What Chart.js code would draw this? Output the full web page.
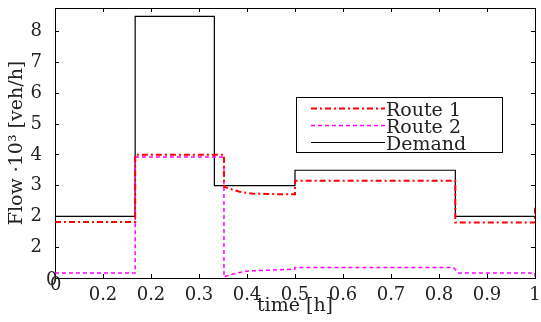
<!DOCTYPE html>
<html>
<head>
<meta charset="utf-8">
<script src="https://cdn.jsdelivr.net/npm/chart.js@4/dist/chart.umd.min.js"></script>
<style>
  body { margin: 0; background: #fff; }
  #flowChart { display: block; }
</style>
</head>
<body>
<canvas id="flowChart" width="541" height="322"></canvas>
<script>
// Series data (time in hours, flow in 10^3 veh/h)
const route1Time = [0, 0.167, 0.167, 0.352, 0.352, 0.362, 0.372, 0.383, 0.393, 0.413, 0.441, 0.47, 0.5, 0.5, 0.834, 0.834, 1, 1];
const route1Flow = [1.82, 1.82, 4.0, 4.0, 2.97, 2.91, 2.86, 2.81, 2.78, 2.74, 2.73, 2.72, 2.72, 3.16, 3.16, 1.8, 1.8, 2.3];

const route2Time = [0, 0.167, 0.167, 0.352, 0.352, 0.354, 0.367, 0.379, 0.391, 0.403, 0.441, 0.47, 0.5, 0.5, 0.83, 0.84, 1, 1];
const route2Flow = [0.16, 0.16, 3.93, 3.93, 0.03, 0.05, 0.11, 0.16, 0.2, 0.23, 0.25, 0.27, 0.29, 0.34, 0.34, 0.16, 0.16, 0.0];

const demandTime = [0, 0.167, 0.167, 0.332, 0.332, 0.5, 0.5, 0.834, 0.834, 1];
const demandFlow = [2, 2, 8.5, 8.5, 3, 3, 3.5, 3.5, 2, 2];

// Ticks and their (odd) labels, as printed in the figure
const xTickValues = [0, 0.1, 0.2, 0.3, 0.4, 0.5, 0.6, 0.7, 0.8, 0.9, 1];
const xTickLabels = ['0', '0.2', '0.2', '0.3', '0.4', '0.5', '0.6', '0.7', '0.8', '0.9', '1'];
const yTickValues = [0, 1, 2, 3, 4, 5, 6, 7, 8];
const yTickLabels = ['0', '2', '2', '3', '4', '5', '6', '7', '8'];

const seriesLabels = ['Route 1', 'Route 2', 'Demand'];

const FONT = 'DejaVu Serif';
const TEXT = '#222';

function toPoints(xs, ys) {
    return xs.map((x, i) => ({ x: x, y: ys[i] }));
}

function setTicks(values) {
    return scale => { scale.ticks = values.map(v => ({ value: v })); };
}

// fixed box sizes so the plot area lands where the original has it
function fixSize(size) {
    return s => {
        if (s.isHorizontal()) s.height = size; else s.width = size;
        s.paddingLeft = s.paddingRight = s.paddingTop = s.paddingBottom = 0;
    };
}

// Legend box inside the plot, MATLAB style
const boxLegend = {
    id: 'boxLegend',
    afterDraw(chart) {
        const ctx = chart.ctx;
        const x0 = 296, y0 = 97, w = 206, h = 55;
        ctx.save();
        ctx.fillStyle = '#fff';
        ctx.fillRect(x0, y0, w, h);
        ctx.strokeStyle = '#000';
        ctx.lineWidth = 1;
        ctx.strokeRect(x0 + 0.5, y0 + 0.5, w, h);
        chart.data.datasets.forEach((ds, i) => {
            const y = 108.5 + i * 17;
            ctx.beginPath();
            ctx.strokeStyle = ds.borderColor;
            ctx.lineWidth = ds.borderWidth;
            ctx.setLineDash(ds.borderDash || []);
            ctx.moveTo(311, y);
            ctx.lineTo(385, y);
            ctx.stroke();
            ctx.setLineDash([]);
            ctx.fillStyle = TEXT;
            ctx.font = '19px "' + FONT + '"';
            ctx.textAlign = 'left';
            ctx.textBaseline = 'alphabetic';
            ctx.fillText(ds.label, 386, y + 7);
        });
        // the two "0" labels sit off their usual spots in the original
        ctx.font = '18px "' + FONT + '"';
        ctx.fillStyle = TEXT;
        ctx.textBaseline = 'middle';
        ctx.textAlign = 'left';
        ctx.fillText(yTickLabels[0], 46, 280);
        ctx.fillText(xTickLabels[0], 50, 285);
        ctx.restore();
    }
};

const chart = new Chart(document.getElementById('flowChart'), {
    type: 'line',
    data: {
        datasets: [
            {
                label: seriesLabels[0],
                data: toPoints(route1Time, route1Flow),
                borderColor: '#ff0000',
                borderWidth: 2,
                borderDash: [6, 3, 2, 3]
            },
            {
                label: seriesLabels[1],
                data: toPoints(route2Time, route2Flow),
                borderColor: '#ff00ff',
                borderWidth: 1.5,
                borderDash: [4, 3]
            },
            {
                label: seriesLabels[2],
                data: toPoints(demandTime, demandFlow),
                borderColor: '#000000',
                borderWidth: 1.2
            }
        ]
    },
    options: {
        responsive: false,
        animation: false,
        layout: { padding: 0 },
        elements: { point: { radius: 0 }, line: { tension: 0 } },
        plugins: {
            legend: { display: false },
            tooltip: { enabled: false }
        },
        scales: {
            x: {
                type: 'linear',
                position: 'bottom',
                min: 0,
                max: 1,
                afterBuildTicks: setTicks(xTickValues),
                afterFit: fixSize(44),
                border: { color: '#000', width: 1 },
                grid: { drawOnChartArea: false, color: '#000', tickLength: -4 },
                ticks: {
                    padding: 11,
                    maxRotation: 0,
                    autoSkip: false,
                    color: TEXT,
                    font: { family: FONT, size: 18 },
                    callback: (v, i) => i === 0 ? '' : xTickLabels[i]
                },
                title: {
                    display: true,
                    text: 'time [h]',
                    color: TEXT,
                    font: { family: FONT, size: 19 },
                    padding: { top: 0, bottom: 5 }
                }
            },
            x2: {
                type: 'linear',
                position: 'top',
                min: 0,
                max: 1,
                afterBuildTicks: setTicks(xTickValues),
                afterFit: fixSize(8),
                border: { color: '#000', width: 1 },
                grid: { drawOnChartArea: false, color: '#000', tickLength: -4 },
                ticks: { display: false }
            },
            y: {
                type: 'linear',
                position: 'left',
                min: 0,
                max: 8.77,
                afterBuildTicks: setTicks(yTickValues),
                afterFit: fixSize(55),
                border: { color: '#000', width: 1 },
                grid: { drawOnChartArea: false, color: '#000', tickLength: -4 },
                ticks: {
                    padding: 17,
                    color: TEXT,
                    font: { family: FONT, size: 18 },
                    callback: (v, i) => i === 0 ? '' : yTickLabels[i]
                },
                title: {
                    display: true,
                    text: 'Flow ·10³ [veh/h]',
                    color: TEXT,
                    font: { family: FONT, size: 19 },
                    padding: { top: 6, bottom: 0 }
                }
            },
            y2: {
                type: 'linear',
                position: 'right',
                min: 0,
                max: 8.77,
                afterBuildTicks: setTicks(yTickValues),
                afterFit: fixSize(6),
                border: { color: '#000', width: 1 },
                grid: { drawOnChartArea: false, color: '#000', tickLength: -4 },
                ticks: { display: false }
            }
        }
    },
    plugins: [boxLegend]
});
</script>
</body>
</html>
